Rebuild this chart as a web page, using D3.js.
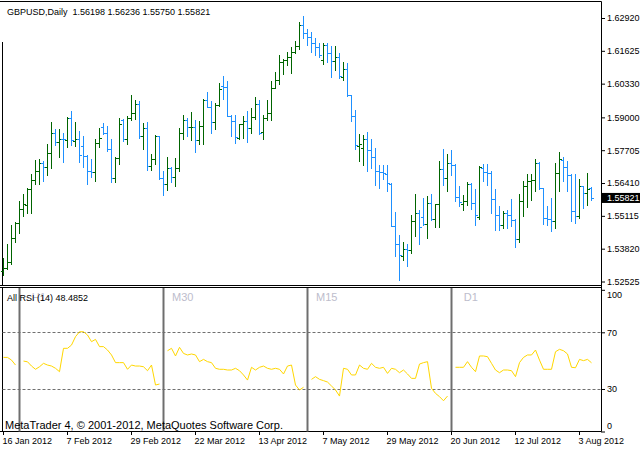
<!DOCTYPE html>
<html><head><meta charset="utf-8">
<script src="https://cdn.jsdelivr.net/npm/d3@7"></script>
<style>
html,body{margin:0;padding:0;background:#fff;}
svg{display:block;font-family:"Liberation Sans",Arial,sans-serif;}
</style></head><body>
<svg id="c" width="640" height="450"></svg>
<script>
// ---------------- data ----------------
const symbolTitle = "GBPUSD,Daily";
const firstTradingDay = [2012, 0, 16];   // 16 Jan 2012, daily bars (weekdays)
const open  = [1.5292,1.5307,1.5330,1.5426,1.5484,1.5537,1.5555,1.5618,1.5651,1.5687,1.5721,1.5705,1.5760,1.5839,1.5804,1.5815,1.5810,1.5898,1.5808,1.5813,
1.5789,1.5746,1.5687,1.5686,1.5800,1.5863,1.5837,1.5777,1.5662,1.5741,1.5888,1.5815,1.5898,1.5918,1.5951,1.5828,1.5859,1.5707,1.5737,1.5825,
1.5662,1.5638,1.5701,1.5666,1.5701,1.5838,1.5888,1.5861,1.5863,1.5811,1.5866,1.5967,1.5942,1.5883,1.5947,1.6022,1.6018,1.5907,1.5887,1.5819,
1.5872,1.5887,1.5859,1.5900,1.5954,1.5842,1.5896,1.5918,1.6017,1.6048,1.6119,1.6128,1.6139,1.6159,1.6183,1.6266,1.6231,1.6219,1.6195,1.6176,
1.6128,1.6187,1.6155,1.6122,1.6140,1.6061,1.6089,1.5988,1.5907,1.5789,1.5781,1.5813,1.5773,1.5742,1.5687,1.5683,1.5678,1.5639,1.5473,1.5401,
1.5355,1.5379,1.5375,1.5493,1.5521,1.5505,1.5480,1.5563,1.5500,1.5559,1.5697,1.5662,1.5721,1.5714,1.5587,1.5559,1.5569,1.5639,1.5563,1.5508,
1.5702,1.5684,1.5681,1.5579,1.5516,1.5476,1.5521,1.5516,1.5497,1.5421,1.5571,1.5631,1.5648,1.5651,1.5721,1.5622,1.5504,1.5500,1.5493,1.5681,
1.5731,1.5705,1.5671,1.5530,1.5510,1.5629,1.5600,1.56198];
const high  = [1.5346,1.5402,1.5475,1.5488,1.5572,1.5599,1.5622,1.5675,1.5730,1.5737,1.5726,1.5793,1.5880,1.5855,1.5855,1.5837,1.5902,1.5927,1.5881,1.5848,
1.5826,1.5750,1.5734,1.5813,1.5859,1.5876,1.5866,1.5813,1.5745,1.5896,1.5892,1.5905,1.5990,1.5968,1.5964,1.5879,1.5881,1.5756,1.5829,1.5827,
1.5690,1.5745,1.5705,1.5739,1.5859,1.5911,1.5896,1.5920,1.5888,1.5885,1.5971,1.6000,1.5963,1.5955,1.6034,1.6062,1.6045,1.5908,1.5908,1.5875,
1.5905,1.5927,1.5935,1.5981,1.5968,1.5908,1.5968,1.6043,1.6078,1.6148,1.6131,1.6159,1.6178,1.6203,1.6278,1.6298,1.6247,1.6235,1.6215,1.6195,
1.6195,1.6194,1.6180,1.6180,1.6152,1.6120,1.6113,1.5990,1.5931,1.5836,1.5832,1.5844,1.5813,1.5781,1.5714,1.5714,1.5714,1.5643,1.5526,1.5434,
1.5410,1.5402,1.5513,1.5596,1.5533,1.5580,1.5589,1.5596,1.5560,1.5726,1.5775,1.5754,1.5773,1.5716,1.5631,1.5592,1.5645,1.5641,1.5619,1.5710,
1.5718,1.5718,1.5688,1.5619,1.5550,1.5530,1.5534,1.5576,1.5499,1.5596,1.5648,1.5675,1.5675,1.5734,1.5723,1.5623,1.5550,1.5583,1.5721,1.5764,
1.5744,1.5727,1.5675,1.5675,1.5655,1.5631,1.5682,1.56236];
const low   = [1.5277,1.5300,1.5321,1.5408,1.5442,1.5510,1.5524,1.5522,1.5639,1.5636,1.5648,1.5671,1.5699,1.5790,1.5742,1.5723,1.5782,1.5790,1.5786,1.5723,
1.5705,1.5638,1.5666,1.5648,1.5784,1.5833,1.5767,1.5644,1.5644,1.5717,1.5806,1.5796,1.5890,1.5894,1.5819,1.5777,1.5692,1.5692,1.5718,1.5658,
1.5595,1.5615,1.5644,1.5629,1.5690,1.5813,1.5826,1.5810,1.5763,1.5796,1.5796,1.5940,1.5839,1.5855,1.5944,1.5971,1.5905,1.5826,1.5800,1.5815,
1.5819,1.5802,1.5839,1.5894,1.5833,1.5815,1.5889,1.5888,1.6014,1.6032,1.6072,1.6106,1.6076,1.6152,1.6168,1.6215,1.6187,1.6156,1.6148,1.6138,
1.6109,1.6118,1.6061,1.6085,1.6057,1.6047,1.5986,1.5884,1.5777,1.5726,1.5714,1.5687,1.5702,1.5635,1.5623,1.5655,1.5609,1.5470,1.5352,1.5260,
1.5337,1.5313,1.5366,1.5431,1.5399,1.5477,1.5426,1.5497,1.5468,1.5468,1.5634,1.5609,1.5671,1.5571,1.5550,1.5534,1.5556,1.5537,1.5477,1.5500,
1.5648,1.5635,1.5521,1.5455,1.5455,1.5464,1.5464,1.5473,1.5388,1.5408,1.5510,1.5545,1.5573,1.5609,1.5618,1.5479,1.5477,1.5450,1.5463,1.5609,
1.5650,1.5610,1.5490,1.5484,1.5504,1.5541,1.5556,1.55750];
const close = [1.5307,1.5330,1.5426,1.5484,1.5537,1.5557,1.5618,1.5651,1.5687,1.5721,1.5705,1.5760,1.5839,1.5804,1.5815,1.5813,1.5898,1.5809,1.5813,1.5752,
1.5747,1.5687,1.5686,1.5800,1.5819,1.5837,1.5777,1.5662,1.5741,1.5872,1.5815,1.5898,1.5918,1.5951,1.5828,1.5859,1.5707,1.5737,1.5825,1.5662,
1.5638,1.5701,1.5666,1.5701,1.5838,1.5888,1.5861,1.5863,1.5811,1.5866,1.5967,1.5942,1.5883,1.5950,1.6013,1.6018,1.5907,1.5887,1.5823,1.5872,
1.5887,1.5859,1.5900,1.5954,1.5839,1.5896,1.5918,1.6017,1.6048,1.6119,1.6128,1.6139,1.6159,1.6183,1.6266,1.6231,1.6219,1.6195,1.6176,1.6148,
1.6187,1.6155,1.6122,1.6140,1.6065,1.6089,1.5990,1.5907,1.5791,1.5793,1.5813,1.5773,1.5742,1.5687,1.5683,1.5679,1.5642,1.5473,1.5401,1.5358,
1.5379,1.5375,1.5493,1.5521,1.5468,1.5480,1.5563,1.5500,1.5559,1.5697,1.5662,1.5721,1.5714,1.5587,1.5566,1.5569,1.5639,1.5563,1.5513,1.5703,
1.5684,1.5681,1.5579,1.5516,1.5476,1.5521,1.5516,1.5497,1.5421,1.5571,1.5631,1.5648,1.5651,1.5721,1.5622,1.5504,1.5500,1.5493,1.5681,1.5737,
1.5705,1.5671,1.5530,1.5510,1.5629,1.5600,1.5616,1.55821];

const priceTicks = [1.62920,1.61625,1.60330,1.59000,1.57705,1.56410,1.55115,1.53820,1.52525];
const priceDomain = [1.52525, 1.62920];
const rsiTicks = [100, 70, 30, 0];
const rsiLevels = [70, 30];
const rsiPeriod = 14;
const rsiLast = 48.4852;
const dateTickStep = 16;

// multi-timeframe RSI, one block per timeframe (start = bar index)
const rsiLead = [52.3,52.3,50.4,46.9];
const rsiH1  = [49.7,49.2,46.2,43.9,45.7,48.1,46.9,46.2,44.6,42.2,58.7,58.7,61.0,66.9,70.4,70.4,68.1,63.4,65.0,59.9,59.9,57.5,54.0,48.6,48.6,48.6,43.9,46.9,46.2,46.2,45.7,42.9,46.9,32.8,33.5];
const rsiM30 = [57.0,58.7,53.3,59.4,55.1,54.0,54.7,54.0,49.3,50.9,49.3,48.6,44.6,43.9,43.9,43.4,43.4,44.6,42.9,39.9,36.3,45.3,43.4,45.3,46.2,44.6,43.9,44.6,43.9,40.6,46.2,46.9,32.8,29.3,31.2];
const rsiM15 = [36.8,38.7,36.8,35.9,34.9,32.1,29.3,25.0,44.6,43.9,39.9,39.9,46.9,44.6,43.9,48.1,45.3,44.6,45.3,41.0,44.6,43.9,41.5,43.4,40.6,37.5,37.5,47.6,48.6,49.3,30.5,26.9,24.6,21.7,25.0];
const rsiD1  = [45.3,45.3,45.3,49.3,45.3,42.2,53.3,53.3,52.8,48.1,43.4,41.5,43.4,43.4,42.9,38.7,48.6,52.3,54.0,54.0,57.5,50.4,43.9,43.9,43.9,56.3,58.0,57.0,54.7,45.3,45.0,50.9,50.0,50.9,48.49];
const rsiBlocks = [
  {label: "",    start: 0,   values: rsiLead},
  {label: "H1",  start: 5,   values: rsiH1},
  {label: "M30", start: 41,  values: rsiM30},
  {label: "M15", start: 77,  values: rsiM15},
  {label: "D1",  start: 113, values: rsiD1}
];
const separatorBars = [4, 40, 76, 112];

// ---------------- drawing ----------------
const svg = d3.select("#c");
const n = open.length;
const dates = [];
{ const d = new Date(firstTradingDay[0], firstTradingDay[1], firstTradingDay[2]);
  while (dates.length < n) { const w = d.getDay(); if (w !== 0 && w !== 6) dates.push(new Date(d)); d.setDate(d.getDate() + 1); } }

const FONT = '"Liberation Sans", Arial, sans-serif';
const axisX = 601.5, mainTop = 1.5, mainBottom = 285.5, subTop = 287.5, subBottom = 431.5, leftX = 2.5;

const xs = d3.scalePoint().domain(d3.range(n)).range([3, 591]);
const cx = i => xs(i) + 0.5;
const yP = d3.scaleLinear().domain(priceDomain).range([281.5, 18]);
const yR = d3.scaleLinear().domain([0, 100]).range([431.5, 289.8]);
const UP = "#006400", DOWN = "#1e90ff";

// frames
const frame = svg.append("g").attr("stroke", "#000").attr("stroke-width", 1);
frame.append("line").attr("x1", 0).attr("x2", axisX).attr("y1", mainTop).attr("y2", mainTop);
frame.append("line").attr("x1", 0).attr("x2", axisX).attr("y1", mainBottom).attr("y2", mainBottom);
frame.append("line").attr("x1", 0).attr("x2", axisX).attr("y1", subTop).attr("y2", subTop);
frame.append("line").attr("x1", 0).attr("x2", axisX).attr("y1", subBottom).attr("y2", subBottom);
frame.append("line").attr("x1", axisX).attr("x2", axisX).attr("y1", mainTop).attr("y2", subBottom);
frame.append("line").attr("x1", leftX).attr("x2", leftX).attr("y1", 42).attr("y2", mainBottom);
frame.append("line").attr("x1", leftX).attr("x2", leftX).attr("y1", subTop).attr("y2", subBottom);

// OHLC bars
const snap = v => Math.round(v) + 0.5;
const bars = svg.append("g").attr("stroke-width", 1).attr("shape-rendering", "crispEdges");
const bg = bars.selectAll("g").data(d3.range(n)).join("g")
  .attr("stroke", i => close[i] >= open[i] ? UP : DOWN);
bg.append("line").attr("x1", cx).attr("x2", cx)
  .attr("y1", i => Math.round(yP(high[i]))).attr("y2", i => Math.round(yP(low[i])) + 1);
bg.append("line").attr("x1", i => cx(i) - 2.5).attr("x2", i => cx(i) - 0.5)
  .attr("y1", i => snap(yP(open[i]))).attr("y2", i => snap(yP(open[i])));
bg.append("line").attr("x1", i => cx(i) + 0.5).attr("x2", i => cx(i) + 2.5)
  .attr("y1", i => snap(yP(close[i]))).attr("y2", i => snap(yP(close[i])));

// price axis
const pa = svg.append("g").attr("transform", `translate(${axisX - 0.5},0)`)
  .call(d3.axisRight(yP).tickValues(priceTicks).tickSize(4).tickPadding(2).tickFormat(d3.format(".5f")));
pa.select(".domain").remove();
pa.selectAll("text").attr("font-family", FONT).attr("font-size", 9).attr("fill", "#000");
pa.selectAll("line").attr("stroke", "#000");

// current price marker
const lastC = close[n - 1];
svg.append("rect").attr("x", axisX + 0.5).attr("y", yP(lastC) - 5).attr("width", 40).attr("height", 10).attr("fill", "#000");
svg.append("line").attr("x1", axisX).attr("x2", axisX + 4).attr("y1", snap(yP(lastC))).attr("y2", snap(yP(lastC))).attr("stroke", "#000");
svg.append("text").attr("x", axisX + 5.5).attr("y", yP(lastC)).attr("dy", "0.34em")
  .attr("font-family", FONT).attr("font-size", 9).attr("fill", "#fff").text(d3.format(".5f")(lastC));

// header
svg.append("text").attr("x", 7).attr("y", 15).attr("font-family", FONT).attr("font-size", 9)
  .style("white-space", "pre").attr("fill", "#000")
  .text(`${symbolTitle}  ${[open[n-1], high[n-1], low[n-1], close[n-1]].map(d3.format(".5f")).join(" ")}`);

// RSI levels
svg.append("g").selectAll("line").data(rsiLevels).join("line")
  .attr("x1", leftX).attr("x2", axisX).attr("y1", d => snap(yR(d))).attr("y2", d => snap(yR(d)))
  .attr("stroke", "#707070").attr("stroke-dasharray", "3,2");

// timeframe separators
svg.append("g").selectAll("line").data(separatorBars).join("line")
  .attr("x1", d => cx(d)).attr("x2", d => cx(d)).attr("y1", subTop + 0.5).attr("y2", subBottom)
  .attr("stroke", "#6e6e6e").attr("stroke-width", 2);

// timeframe labels
svg.append("g").selectAll("text").data(rsiBlocks.filter(b => b.label)).join("text")
  .attr("x", (b, k) => cx(separatorBars[k]) + 19.3).attr("y", 300.7).attr("text-anchor", "middle")
  .attr("font-family", FONT).attr("font-size", 11).attr("fill", "#bdbdcc").text(b => b.label);

// RSI lines
const rl = d3.line().x(d => cx(d.i)).y(d => yR(d.v));
svg.append("g").selectAll("path").data(rsiBlocks).join("path")
  .attr("d", b => rl(b.values.map((v, k) => ({i: b.start + k, v}))))
  .attr("fill", "none").attr("stroke", "#ffd700").attr("stroke-width", 1);

// RSI axis
const ra = svg.append("g").attr("transform", `translate(${axisX - 0.5},0)`)
  .call(d3.axisRight(yR).tickValues(rsiTicks).tickSize(4).tickPadding(2));
ra.select(".domain").remove();
ra.selectAll("line").attr("stroke", "#000");
ra.selectAll("text").attr("font-family", FONT).attr("font-size", 9).attr("fill", "#000")
  .attr("dy", d => d === 100 ? "0.9em" : d === 0 ? "-0.3em" : "0.32em");

// RSI title
svg.append("text").attr("x", 7).attr("y", 300.5).attr("font-family", FONT).attr("font-size", 9).attr("fill", "#000")
  .text(`All RSI (${rsiPeriod}) ${rsiLast.toFixed(4)}`);

// copyright
svg.append("text").attr("x", 5).attr("y", 428.5).attr("font-family", FONT).attr("font-size", 11).attr("fill", "#000")
  .text("MetaTrader 4, \u00a9 2001-2012, MetaQuotes Software Corp.");

// date axis
const fmt = d3.timeFormat("%-d %b %Y");
const da = svg.append("g").attr("transform", `translate(0,${subBottom - 0.5})`)
  .call(d3.axisBottom(xs).tickValues(d3.range(0, n, dateTickStep)).tickSize(4).tickPadding(3).tickFormat(i => fmt(dates[i])));
da.select(".domain").remove();
da.selectAll("line").attr("stroke", "#000");
da.selectAll("text").attr("font-family", FONT).attr("font-size", 9).attr("fill", "#000")
  .attr("text-anchor", "start").attr("x", -1);
</script>
</body></html>
